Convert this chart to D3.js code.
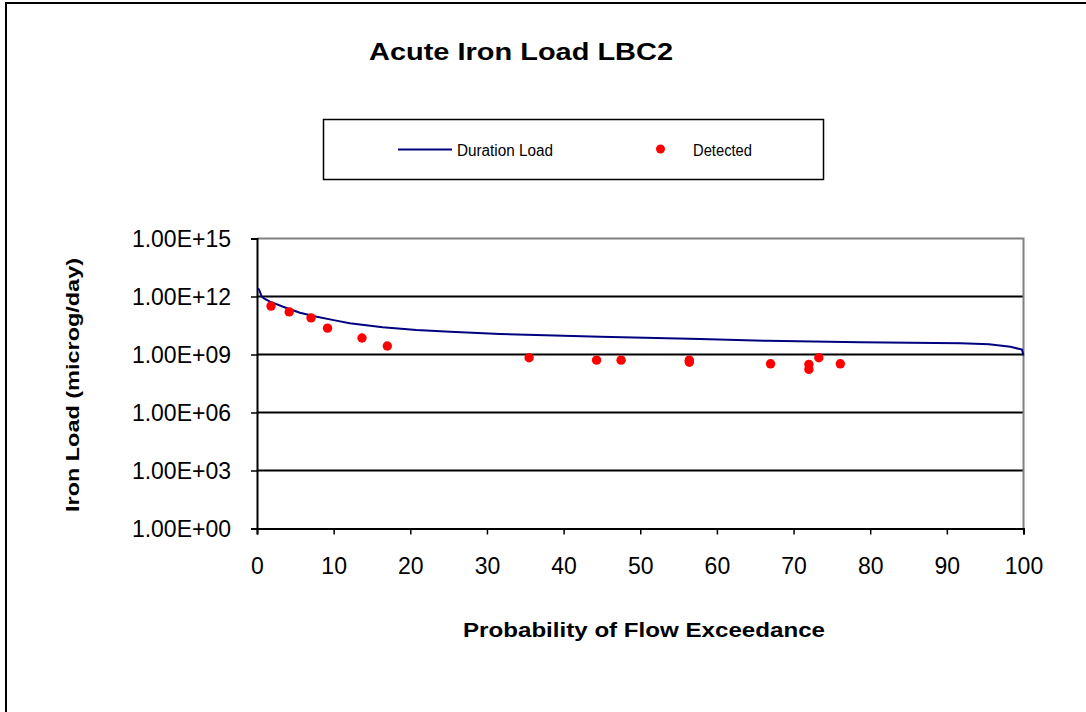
<!DOCTYPE html>
<meta charset="utf-8">
<body style="margin:0;background:#fff;">
<div id="chart"></div>
<script src="https://d3js.org/d3.v7.min.js"></script>
<script>
const width = 1086, height = 712;

// Duration curve (percent exceedance, load microg/day)
const curveX = [0.15, 0.35, 0.6, 0.9, 1.7, 3.4, 5.6, 7.8, 10.0, 12.1, 16.4, 20.8, 25.2, 31.7, 44.8, 57.8, 66.5, 78.7, 91.8, 95.5, 98.3, 99.8, 100];
const curveY = [2.7e12, 1.9e12, 1.0e12, 8.0e11, 5.4e11, 2.95e11, 1.45e11, 8.9e10, 6.0e10, 4.1e10, 2.6e10, 1.86e10, 1.5e10, 1.15e10, 8.3e9, 6.3e9, 5.1e9, 4.3e9, 3.8e9, 3.4e9, 2.5e9, 1.8e9, 9.0e8];

// Detected samples
const detX = [1.83, 4.2, 7.05, 9.2, 13.7, 17.0, 35.5, 44.3, 47.5, 56.4, 56.4, 67.0, 72.0, 72.0, 73.3, 76.1];
const detY = [3.2e11, 1.6e11, 7.8e10, 2.3e10, 7.1e9, 2.75e9, 6.8e8, 5.1e8, 5.1e8, 5.1e8, 4.0e8, 3.3e8, 3.1e8, 1.7e8, 6.8e8, 3.3e8];

const xTicks = [0, 10, 20, 30, 40, 50, 60, 70, 80, 90, 100];
const yTicks = [1, 1e3, 1e6, 1e9, 1e12, 1e15];
const yTickLabels = ["1.00E+00", "1.00E+03", "1.00E+06", "1.00E+09", "1.00E+12", "1.00E+15"];

const plotLeft = 257, plotRight = 1023.5, plotTop = 238.5, plotBottom = 528.5;

const x = d3.scaleLinear().domain([0, 100]).range([plotLeft, plotRight]);
const y = d3.scaleLog().domain([1, 1e15]).range([plotBottom, plotTop]);

const svg = d3.select("#chart").append("svg")
	.attr("width", width)
	.attr("height", height)
	.style("display", "block")
	.style("font-family", "Arial, 'Liberation Sans', sans-serif");

// outer frame
svg.append("rect")
	.attr("x", 6).attr("y", 3)
	.attr("width", width + 20).attr("height", height + 20)
	.attr("fill", "none").attr("stroke", "#000").attr("stroke-width", 2);

// title
svg.append("text")
	.attr("x", 521).attr("y", 59.5)
	.attr("text-anchor", "middle")
	.attr("font-size", 24).attr("font-weight", "bold")
	.attr("textLength", 304).attr("lengthAdjust", "spacingAndGlyphs")
	.text("Acute Iron Load LBC2");

// legend
const legend = svg.append("g");
legend.append("rect")
	.attr("x", 323.5).attr("y", 119.5)
	.attr("width", 500).attr("height", 60)
	.attr("fill", "#fff").attr("stroke", "#000").attr("stroke-width", 1.5);
legend.append("line")
	.attr("x1", 398).attr("x2", 452).attr("y1", 149.5).attr("y2", 149.5)
	.attr("stroke", "#000080").attr("stroke-width", 2);
legend.append("text")
	.attr("x", 457).attr("y", 155.5)
	.attr("font-size", 16)
	.attr("textLength", 96).attr("lengthAdjust", "spacingAndGlyphs")
	.text("Duration Load");
legend.append("circle")
	.attr("cx", 660.5).attr("cy", 149).attr("r", 4.5)
	.attr("fill", "#ff0000");
legend.append("text")
	.attr("x", 693).attr("y", 155.5)
	.attr("font-size", 16)
	.attr("textLength", 59).attr("lengthAdjust", "spacingAndGlyphs")
	.text("Detected");

// grid lines
svg.append("g")
	.selectAll("line")
	.data(yTicks.slice(1, -1))
	.join("line")
	.attr("x1", plotLeft).attr("x2", plotRight)
	.attr("y1", d => y(d)).attr("y2", d => y(d))
	.attr("stroke", "#000").attr("stroke-width", 1.8);

// plot border top/right (gray)
svg.append("path")
	.attr("d", `M${plotLeft},${y(1e15)}H${plotRight}V${plotBottom}`)
	.attr("fill", "none").attr("stroke", "#808080").attr("stroke-width", 2);

// axes
const yAxis = svg.append("g")
	.attr("transform", `translate(${plotLeft},0)`)
	.call(d3.axisLeft(y).tickValues(yTicks).tickSize(6).tickPadding(20)
		.tickFormat((d, i) => yTickLabels[i]));
const xAxis = svg.append("g")
	.attr("transform", `translate(0,${plotBottom})`)
	.call(d3.axisBottom(x).tickValues(xTicks).tickSize(6).tickPadding(23)
		.tickFormat(d3.format("d")));

[xAxis, yAxis].forEach(a => {
	a.select(".domain").attr("stroke", "#000").attr("stroke-width", 2);
	a.selectAll(".tick line").attr("stroke", "#000").attr("stroke-width", 1.5);
	a.selectAll("text")
		.attr("font-size", 23)
		.attr("font-family", "Arial, 'Liberation Sans', sans-serif")
		.attr("fill", "#000");
});
yAxis.selectAll("text").attr("dy", "0.35em");
xAxis.selectAll("text").attr("dy", "0.71em");

// duration load curve
const line = d3.line()
	.x((d, i) => x(curveX[i]))
	.y(d => y(d));
svg.append("path")
	.datum(curveY)
	.attr("d", line)
	.attr("fill", "none")
	.attr("stroke", "#000080")
	.attr("stroke-width", 2);

// detected points
svg.append("g")
	.selectAll("circle")
	.data(detY)
	.join("circle")
	.attr("cx", (d, i) => x(detX[i]))
	.attr("cy", d => y(d))
	.attr("r", 4.7)
	.attr("fill", "#ff0000");

// axis titles
svg.append("text")
	.attr("x", 644).attr("y", 637)
	.attr("text-anchor", "middle")
	.attr("font-size", 20).attr("font-weight", "bold")
	.attr("textLength", 362).attr("lengthAdjust", "spacingAndGlyphs")
	.text("Probability of Flow Exceedance");

svg.append("text")
	.attr("transform", "translate(78.5,385) rotate(-90)")
	.attr("text-anchor", "middle")
	.attr("font-size", 19).attr("font-weight", "bold")
	.attr("textLength", 254).attr("lengthAdjust", "spacingAndGlyphs")
	.text("Iron Load (microg/day)");
</script>
</body>
